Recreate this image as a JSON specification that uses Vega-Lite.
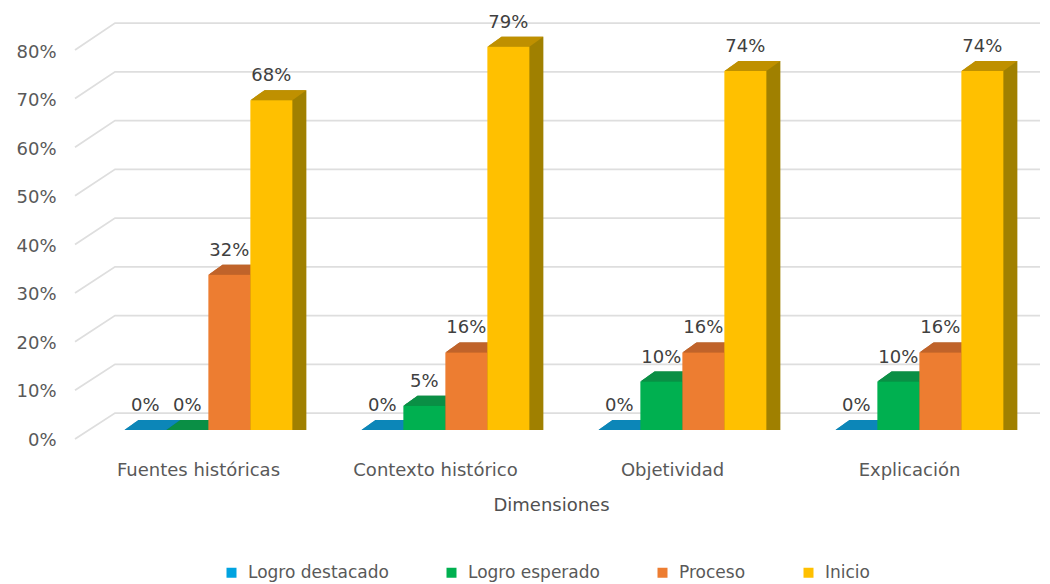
{
"$schema":"https://vega.github.io/schema/vega-lite/v6.json",
"width":948,"height":388,
"autosize":{"type":"none"},
"padding":{"left":90,"top":42,"right":12,"bottom":154},
"background":"white",
"config":{"view":{"stroke":null},"font":"DejaVu Sans"},
"datasets":{
"barras":[
{"dimension":"Fuentes históricas","serie":"Logro destacado","valor":0},
{"dimension":"Fuentes históricas","serie":"Logro esperado","valor":0},
{"dimension":"Fuentes históricas","serie":"Proceso","valor":0.32},
{"dimension":"Fuentes históricas","serie":"Inicio","valor":0.68},
{"dimension":"Contexto histórico","serie":"Logro destacado","valor":0},
{"dimension":"Contexto histórico","serie":"Logro esperado","valor":0.05},
{"dimension":"Contexto histórico","serie":"Proceso","valor":0.16},
{"dimension":"Contexto histórico","serie":"Inicio","valor":0.79},
{"dimension":"Objetividad","serie":"Logro destacado","valor":0},
{"dimension":"Objetividad","serie":"Logro esperado","valor":0.10},
{"dimension":"Objetividad","serie":"Proceso","valor":0.16},
{"dimension":"Objetividad","serie":"Inicio","valor":0.74},
{"dimension":"Explicación","serie":"Logro destacado","valor":0},
{"dimension":"Explicación","serie":"Logro esperado","valor":0.10},
{"dimension":"Explicación","serie":"Proceso","valor":0.16},
{"dimension":"Explicación","serie":"Inicio","valor":0.74}
],
"rejilla":[
{"t":0,"p":-15,"n":-0.0185},{"t":0,"p":25,"n":0.035},{"t":0,"p":950,"n":0.035},
{"t":10,"p":-15,"n":0.0818},{"t":10,"p":25,"n":0.1355},{"t":10,"p":950,"n":0.1355},
{"t":20,"p":-15,"n":0.182},{"t":20,"p":25,"n":0.236},{"t":20,"p":950,"n":0.236},
{"t":30,"p":-15,"n":0.2823},{"t":30,"p":25,"n":0.3365},{"t":30,"p":950,"n":0.3365},
{"t":40,"p":-15,"n":0.3825},{"t":40,"p":25,"n":0.437},{"t":40,"p":950,"n":0.437},
{"t":50,"p":-15,"n":0.4828},{"t":50,"p":25,"n":0.5375},{"t":50,"p":950,"n":0.5375},
{"t":60,"p":-15,"n":0.583},{"t":60,"p":25,"n":0.638},{"t":60,"p":950,"n":0.638},
{"t":70,"p":-15,"n":0.6833},{"t":70,"p":25,"n":0.7385},{"t":70,"p":950,"n":0.7385},
{"t":80,"p":-15,"n":0.7835},{"t":80,"p":25,"n":0.839},{"t":80,"p":950,"n":0.839}
]},
"resolve":{"scale":{"x":"independent"}},
"layer":[
{"data":{"name":"rejilla"},
"mark":{"type":"line","color":"#DEDEDE","strokeWidth":1.8,"clip":false},
"encoding":{
"x":{"field":"p","type":"quantitative","scale":{"domain":[0,948],"nice":false,"zero":false},"axis":null},
"y":{"field":"n","type":"quantitative","scale":{"domain":[0,0.8],"nice":false},
"axis":{"format":".0%","title":null,"values":[0,0.1,0.2,0.3,0.4,0.5,0.6,0.7,0.8],"labelFontSize":18,"labelColor":"#595959","labelPadding":34,"labelOffset":10,"ticks":false,"domain":false,"grid":false}},
"detail":{"field":"t"}}},
{"data":{"name":"barras"},
"encoding":{
"x":{"field":"dimension","type":"nominal","sort":["Fuentes históricas","Contexto histórico","Objetividad","Explicación"],
"scale":{"type":"band","paddingInner":0.29,"paddingOuter":0.145},
"axis":{"title":"Dimensiones","titleFont":"DejaVu Sans","titleFontWeight":"normal","titleFontSize":18,"titleColor":"#505050","titleX":461,"titleY":75,"titleBaseline":"middle","labelAngle":0,"labelFontSize":18,"labelColor":"#595959","labelOffset":-10,"labelPadding":40,"labelBaseline":"middle","ticks":false,"domain":false,"grid":false}},
"xOffset":{"field":"serie","type":"nominal","sort":["Logro destacado","Logro esperado","Proceso","Inicio"],"scale":{"type":"band","paddingInner":0,"paddingOuter":0,"range":[0,168]}},
"y":{"field":"valor","type":"quantitative","stack":null,"scale":{"domain":[0,0.8],"nice":false}},
"color":{"field":"serie","type":"nominal","legend":null,"sort":["Logro destacado","Logro esperado","Proceso","Inicio"],
"scale":{"domain":["Logro destacado","Logro esperado","Proceso","Inicio"],"range":["#0A7099","#067A38","#A85B20","#A08000"]}}},
"resolve":{"scale":{"color":"independent","xOffset":"independent"}},
"layer":[
{"mark":{"type":"bar","yOffset":-0.71,"y2Offset":-0.71},"encoding":{"xOffset":{"field":"serie","type":"nominal","sort":["Logro destacado","Logro esperado","Proceso","Inicio"],"scale":{"paddingInner":0,"paddingOuter":0,"range":[1,169]}}}},
{"mark":{"type":"bar","yOffset":-1.43,"y2Offset":-1.43},"encoding":{"xOffset":{"field":"serie","type":"nominal","sort":["Logro destacado","Logro esperado","Proceso","Inicio"],"scale":{"paddingInner":0,"paddingOuter":0,"range":[2,170]}}}},
{"mark":{"type":"bar","yOffset":-2.14,"y2Offset":-2.14},"encoding":{"xOffset":{"field":"serie","type":"nominal","sort":["Logro destacado","Logro esperado","Proceso","Inicio"],"scale":{"paddingInner":0,"paddingOuter":0,"range":[3,171]}}}},
{"mark":{"type":"bar","yOffset":-2.86,"y2Offset":-2.86},"encoding":{"xOffset":{"field":"serie","type":"nominal","sort":["Logro destacado","Logro esperado","Proceso","Inicio"],"scale":{"paddingInner":0,"paddingOuter":0,"range":[4,172]}}}},
{"mark":{"type":"bar","yOffset":-3.57,"y2Offset":-3.57},"encoding":{"xOffset":{"field":"serie","type":"nominal","sort":["Logro destacado","Logro esperado","Proceso","Inicio"],"scale":{"paddingInner":0,"paddingOuter":0,"range":[5,173]}}}},
{"mark":{"type":"bar","yOffset":-4.29,"y2Offset":-4.29},"encoding":{"xOffset":{"field":"serie","type":"nominal","sort":["Logro destacado","Logro esperado","Proceso","Inicio"],"scale":{"paddingInner":0,"paddingOuter":0,"range":[6,174]}}}},
{"mark":{"type":"bar","yOffset":-5,"y2Offset":-5},"encoding":{"xOffset":{"field":"serie","type":"nominal","sort":["Logro destacado","Logro esperado","Proceso","Inicio"],"scale":{"paddingInner":0,"paddingOuter":0,"range":[7,175]}}}},
{"mark":{"type":"bar","yOffset":-5.71,"y2Offset":-5.71},"encoding":{"xOffset":{"field":"serie","type":"nominal","sort":["Logro destacado","Logro esperado","Proceso","Inicio"],"scale":{"paddingInner":0,"paddingOuter":0,"range":[8,176]}}}},
{"mark":{"type":"bar","yOffset":-6.43,"y2Offset":-6.43},"encoding":{"xOffset":{"field":"serie","type":"nominal","sort":["Logro destacado","Logro esperado","Proceso","Inicio"],"scale":{"paddingInner":0,"paddingOuter":0,"range":[9,177]}}}},
{"mark":{"type":"bar","yOffset":-7.14,"y2Offset":-7.14},"encoding":{"xOffset":{"field":"serie","type":"nominal","sort":["Logro destacado","Logro esperado","Proceso","Inicio"],"scale":{"paddingInner":0,"paddingOuter":0,"range":[10,178]}}}},
{"mark":{"type":"bar","yOffset":-7.86,"y2Offset":-7.86},"encoding":{"xOffset":{"field":"serie","type":"nominal","sort":["Logro destacado","Logro esperado","Proceso","Inicio"],"scale":{"paddingInner":0,"paddingOuter":0,"range":[11,179]}}}},
{"mark":{"type":"bar","yOffset":-8.57,"y2Offset":-8.57},"encoding":{"xOffset":{"field":"serie","type":"nominal","sort":["Logro destacado","Logro esperado","Proceso","Inicio"],"scale":{"paddingInner":0,"paddingOuter":0,"range":[12,180]}}}},
{"mark":{"type":"bar","yOffset":-9.29,"y2Offset":-9.29},"encoding":{"xOffset":{"field":"serie","type":"nominal","sort":["Logro destacado","Logro esperado","Proceso","Inicio"],"scale":{"paddingInner":0,"paddingOuter":0,"range":[13,181]}}}},
{"mark":{"type":"bar","yOffset":-10,"y2Offset":-10},"encoding":{"xOffset":{"field":"serie","type":"nominal","sort":["Logro destacado","Logro esperado","Proceso","Inicio"],"scale":{"paddingInner":0,"paddingOuter":0,"range":[14,182]}}}},
{"mark":{"type":"point","filled":true,"opacity":1,"size":1764,"shape":"M -1 0 L 1 0 L 1.667 -0.476 L -0.333 -0.476 Z"},
"encoding":{"color":{"field":"serie","type":"nominal","legend":null,
"scale":{"domain":["Logro destacado","Logro esperado","Proceso","Inicio"],"range":["#0C86B8","#0A8F45","#C0632A","#BF9000"]}}}},
{"mark":{"type":"bar"},
"encoding":{"color":{"field":"serie","type":"nominal","sort":["Logro destacado","Logro esperado","Proceso","Inicio"],
"scale":{"domain":["Logro destacado","Logro esperado","Proceso","Inicio"],"range":["#00A3E0","#00B050","#ED7D31","#FFC000"]},
"legend":{"title":null,"orient":"none","direction":"horizontal","legendX":133,"legendY":522,"padding":0,"symbolType":"square","symbolSize":100,"symbolStrokeWidth":0,"labelFontSize":17,"labelColor":"#595959","columnPadding":54,"labelOffset":8}}}},
{"mark":{"type":"text","fontSize":18,"color":"#404040","dy":-24,"baseline":"middle"},
"encoding":{"text":{"field":"valor","type":"quantitative","format":".0%"},"color":{"value":"#404040"}}}
]}
]}
